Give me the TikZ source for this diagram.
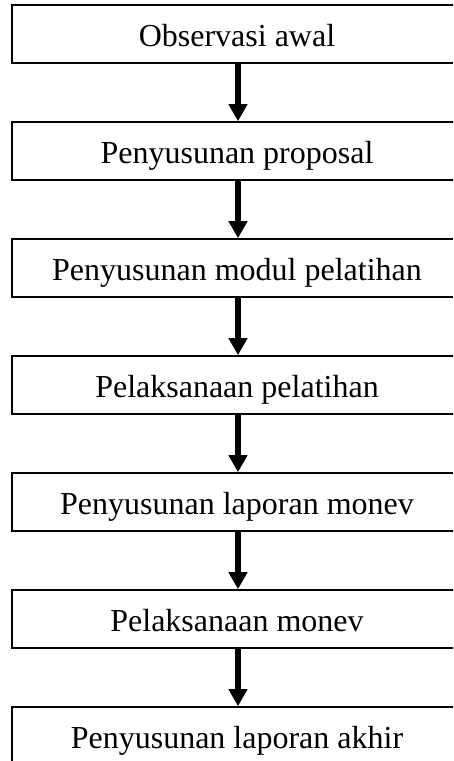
\documentclass[tikz,border=0pt]{standalone}
\usepackage{fontspec}
\setmainfont{Liberation Serif}
\usetikzlibrary{arrows.meta}
\begin{document}
\begin{tikzpicture}[x=1pt,y=-1pt,
  stepbox/.style={draw=black,line width=1.6pt,minimum width=450pt,minimum height=58pt,
    inner sep=0pt,text height=24pt,text depth=0pt,
    font=\fontsize{32}{36}\selectfont},
  flow/.style={line width=6pt,-{Triangle[width=18pt,length=17pt]}}]
\clip (0,0) rectangle (453,761);
\useasboundingbox (0,0) rectangle (453,761);
\node[stepbox] (b1) at (237,34)  {Observasi awal};
\node[stepbox] (b2) at (237,151) {Penyusunan proposal};
\node[stepbox] (b3) at (237,268) {Penyusunan modul pelatihan};
\node[stepbox] (b4) at (237,385) {Pelaksanaan pelatihan};
\node[stepbox] (b5) at (237,502) {Penyusunan laporan monev};
\node[stepbox] (b6) at (237,619) {Pelaksanaan monev};
\node[stepbox] (b7) at (237,736) {Penyusunan laporan akhir};
\foreach \a/\b in {b1/b2,b2/b3,b3/b4,b4/b5,b5/b6,b6/b7}
  \draw[flow] ([xshift=1pt]\a.south) -- ([xshift=1pt]\b.north);
\end{tikzpicture}
\end{document}
